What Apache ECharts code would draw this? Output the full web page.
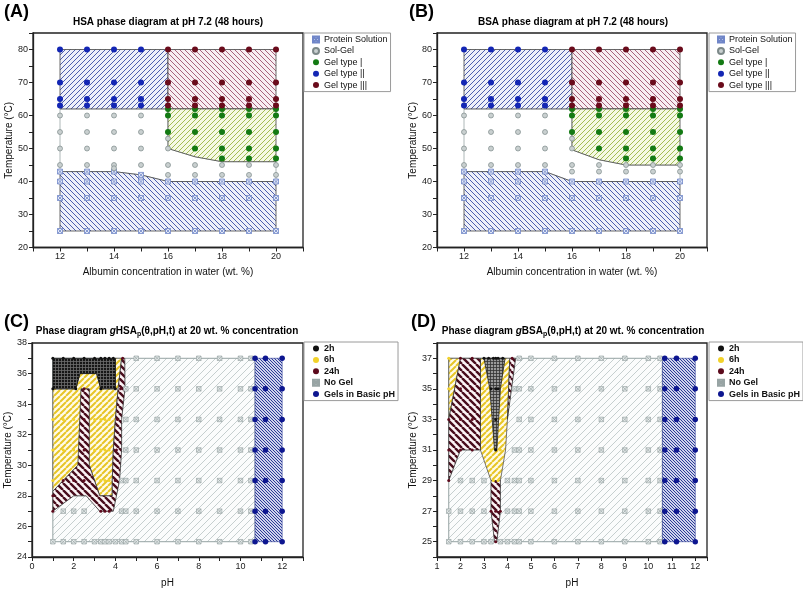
<!DOCTYPE html>
<html><head><meta charset="utf-8">
<script src="https://cdn.jsdelivr.net/npm/echarts@6/dist/echarts.min.js"></script>
<style>html,body{margin:0;padding:0;background:#fff}#c{width:803px;height:590px}</style>
</head><body><div id="c"></div>
<script>
const FONT = 'Liberation Sans, Arial, sans-serif';

// ---------- Panel A: HSA, pH 7.2 (rows: [temperature, [wt.% values]]) ----------
const A_protein = [[25,[12,13,14,15,16,17,18,19,20]],[35,[12,13,14,15,16,17,18,19,20]],[40,[12,13,14,15,16,17,18,19,20]],[43,[12,13,14]],[42,[15]]];
const A_solGel  = [[60,[12,13,14,15]],[55,[12,13,14,15]],[53,[16]],[50,[12,13,14,15,16]],[45,[12,13,14,15,16,17,18,19,20]],[44,[14]],[42,[16,17,18,19,20]]];
const A_gel1    = [[62,[16,17,18,19,20]],[60,[16,17,18,19,20]],[55,[16,17,18,19,20]],[50,[17,18,19,20]],[47,[18,19,20]]];
const A_gel2    = [[80,[12,13,14,15]],[70,[12,13,14,15]],[65,[12,13,14,15]],[63,[12,13,14,15]]];
const A_gel3    = [[80,[16,17,18,19,20]],[70,[16,17,18,19,20]],[65,[16,17,18,19,20]],[63,[16,17,18,19,20]]];
const A_regGel2 = [[12,62],[12,80],[16,80],[16,62]];
const A_regGel3 = [[16,62],[16,80],[20,80],[20,62]];
const A_regGel1 = [[16,62],[20,62],[20,46],[18,46],[17,47.5],[16,50]];
const A_regSol  = [[12,25],[12,43],[14,43],[15,42],[16,40],[20,40],[20,25]];
const A_regSolGel = [[12,43],[12,62],[16,62],[16,50],[17,47.5],[18,46],[20,46],[20,40],[16,40],[15,42],[14,43]];

// ---------- Panel B: BSA, pH 7.2 ----------
const B_protein = [[25,[12,13,14,15,16,17,18,19,20]],[35,[12,13,14,15,16,17,18,19,20]],[40,[12,13,14,15,16,17,18,19,20]],[43,[12,13,14,15]]];
const B_solGel  = [[60,[12,13,14,15]],[55,[12,13,14,15]],[53,[16]],[50,[12,13,14,15,16]],[45,[12,13,14,15,16,17,18,19,20]],[43,[16,17,18,19,20]]];
const B_gel1    = [[62,[16,17,18,19,20]],[60,[16,17,18,19,20]],[55,[16,17,18,19,20]],[50,[17,18,19,20]],[47,[18,19,20]]];
const B_gel2    = [[80,[12,13,14,15]],[70,[12,13,14,15]],[65,[12,13,14,15]],[63,[12,13,14,15]]];
const B_gel3    = [[80,[16,17,18,19,20]],[70,[16,17,18,19,20]],[65,[16,17,18,19,20]],[63,[16,17,18,19,20]]];
const B_regGel2 = [[12,62],[12,80],[16,80],[16,62]];
const B_regGel3 = [[16,62],[16,80],[20,80],[20,62]];
const B_regGel1 = [[16,62],[20,62],[20,45],[18,45],[17,46.6],[16,49.6]];
const B_regSol  = [[12,25],[12,43],[15,43],[16,40],[20,40],[20,25]];
const B_regSolGel = [[12,43],[12,62],[16,62],[16,49.6],[17,46.6],[18,45],[20,45],[20,40],[16,40],[15,43]];

// ---------- Panel C: gHSA at 20 wt.% (rows: [temperature, [pH values]]) ----------
const C_2h    = [[37,[1,1.5,2,2.5,3,3.3,3.5,3.7,3.9]],[35,[1,2.1,3.3,4]]];
const C_6h    = [[33,[1,1.5,2,3,3.3,3.5,3.7]],[31,[1,1.5,2,3,3.3,3.5,3.7]],[29,[1,3.3,3.5,3.7]]];
const C_24h   = [[37,[4.35]],[35,[2.5,4.25]],[33,[2.5,4.1]],[31,[2.5,4.05]],[29,[1.5,2,2.5,4]],[28,[1]],[27,[1,3.3,3.5,3.7]]];
const C_noGel = [[37,[5,6,7,8,9,10,10.5]],[35,[4.5,5,6,7,8,9,10,10.5]],[33,[4.5,5,6,7,8,9,10,10.5]],[31,[4.5,5,6,7,8,9,10,10.5]],[29,[4.3,4.5,5,6,7,8,9,10,10.5]],[27,[1.5,2,2.5,4.3,4.5,5,6,7,8,9,10,10.5]],[25,[1,1.5,2,2.5,3,3.3,3.5,3.7,4,4.3,4.5,5,6,7,8,9,10,10.5]]];
const C_basic = [[37,[10.7,11.2,12]],[35,[10.7,11.2,12]],[33,[10.7,11.2,12]],[31,[10.7,11.2,12]],[29,[10.7,11.2,12]],[27,[10.7,11.2,12]],[25,[10.7,11.2,12]]];
const C_regNoGel = [[1,25],[10.7,25],[10.7,37],[1,37]];
const C_regBasic = [[10.7,25],[12,25],[12,37],[10.7,37]];
const C_reg6h  = [[1,28.3],[1,35],[2.1,35],[2.3,36],[3.1,36],[3.3,35],[4.0,35],[4.0,37],[4.3,37],[4.13,35],[4.0,33],[3.9,31],[3.85,29],[3.85,28],[3.25,28],[2.75,30],[2.2,30]];
const C_reg24h = [[1,27],[1,28.3],[2.2,30],[2.35,35],[2.75,35],[2.75,30],[3.25,28],[3.85,28],[3.85,29],[3.9,31],[4.0,33],[4.13,35],[4.3,37],[4.45,37],[4.46,35],[4.3,33],[4.3,31],[4.2,29],[3.9,27],[3.25,27],[2.6,28],[2.0,28]];
const C_reg2h  = [[1,37],[4.0,37],[4.0,35],[3.3,35],[3.1,36],[2.3,36],[2.1,35],[1,35]];

// ---------- Panel D: gBSA at 20 wt.% ----------
const D_2h    = [[37,[3.0,3.2,3.4,3.5,3.6,3.8]],[35,[3.3,3.5,3.6]],[33,[3.5]],[31,[3.5]]];
const D_6h    = [[37,[1.5]],[35,[1.5,2.95,3.85]],[33,[3.1,3.8]],[31,[3.3,3.7]],[29,[3.4,3.6]]];
const D_24h   = [[37,[2.0,2.5,4.2]],[35,[2.0,2.5]],[33,[1.5,2.0,2.5]],[31,[1.5,2.0,2.5]],[29,[1.5]],[27,[3.3,3.5,3.7]],[25,[3.5]]];
const D_noGel = [[37,[4.5,5,6,7,8,9,10,10.5]],[35,[4.3,4.5,5,6,7,8,9,10,10.5]],[33,[4.5,5,6,7,8,9,10,10.5]],[31,[4.3,4.5,5,6,7,8,9,10,10.5]],[29,[2,2.5,3,4,4.3,4.5,5,6,7,8,9,10,10.5]],[27,[1.5,2,2.5,3,4,4.3,4.5,5,6,7,8,9,10,10.5]],[25,[1.5,2,2.5,3,3.3,3.7,4,4.3,4.5,5,6,7,8,9,10,10.5]]];
const D_basic = [[37,[10.7,11.2,12]],[35,[10.7,11.2,12]],[33,[10.7,11.2,12]],[31,[10.7,11.2,12]],[29,[10.7,11.2,12]],[27,[10.7,11.2,12]],[25,[10.7,11.2,12]]];
const D_regNoGel = [[1.5,25],[10.6,25],[10.6,37],[1.5,37]];
const D_regBasic = [[10.6,25],[12,25],[12,37],[10.6,37]];
const D_reg6hL   = [[1.5,33],[1.5,37],[2.0,37]];
const D_reg24hL  = [[1.5,29],[1.5,33],[2.0,37],[2.85,37],[2.85,31],[2.0,31]];
const D_reg6hM   = [[2.85,37],[4.1,37],[4.0,33],[3.92,31],[3.7,29],[3.3,29],[2.85,31]];
const D_reg2h    = [[3.0,37],[3.9,37],[3.7,35],[3.55,31],[3.45,31],[3.25,35]];
const D_reg24hR  = [[4.1,37],[4.35,37],[4.0,33]];
const D_reg24hB  = [[3.3,29],[3.7,29],[3.7,27],[3.55,25],[3.45,25],[3.3,27]];

// ---------- helpers ----------
function rows(tbl){ const out=[]; tbl.forEach(r=>r[1].forEach(x=>out.push([x,r[0]]))); return out; }
function hatch(line,bg,dir,size,width){
  const c=document.createElement('canvas'); c.width=size; c.height=size;
  const g=c.getContext('2d'); g.fillStyle=bg; g.fillRect(0,0,size,size);
  g.strokeStyle=line; g.lineWidth=width; g.beginPath();
  const s=size;
  const ds = dir==='x' ? ['/','\\'] : [dir];
  ds.forEach(d=>{
    if(d==='+'){ g.moveTo(0,s/2); g.lineTo(s,s/2); g.moveTo(s/2,0); g.lineTo(s/2,s); return; }
    for(let k=-1;k<=1;k++){
      if(d==='/'){ g.moveTo(k*s,s); g.lineTo(k*s+s,0); }
      else { g.moveTo(k*s,0); g.lineTo(k*s+s,s); }
    }
  });
  g.stroke();
  return {image:c, repeat:'repeat'};
}
function region(idx, pts, fill, stroke, lw, z){
  return {type:'custom', xAxisIndex:idx, yAxisIndex:idx, z:z, silent:true, data:pts,
    renderItem:function(params, api){
      if(params.dataIndex!==0) return;
      return {type:'polygon', shape:{points:pts.map(p=>api.coord(p))}, style:{fill:fill, stroke:stroke, lineWidth:lw}};
    }};
}
const BOXX = 'path://M0 0H10V10H0Z M0 0L10 10 M10 0L0 10';
function dots(idx, name, tbl, symbol, size, color, border, bw){
  return {type:'scatter', name:name, xAxisIndex:idx, yAxisIndex:idx, z:10, silent:true,
    data:rows(tbl), symbol:symbol, symbolSize:size,
    itemStyle:{color:color, opacity:1, borderColor:border||color, borderWidth:bw||0},
    emphasis:{disabled:true}};
}
function xAx(idx, min, max, interval, name, fmt, gap){
  return {type:'value', gridIndex:idx, min:min, max:max, interval:interval, name:name,
    nameLocation:'middle', nameGap:gap,
    nameTextStyle:{fontSize:10, color:'#111', fontFamily:FONT},
    axisLine:{show:true, onZero:false, lineStyle:{color:'#222', width:1.3}},
    axisTick:{show:true, length:4, lineStyle:{color:'#222', width:1}},
    axisLabel:{fontSize:9, color:'#222', fontFamily:FONT, margin:5, formatter:fmt},
    splitLine:{show:false}};
}
const even = v => (Math.round(v)===v && v%2===0) ? String(v) : '';
const odd  = v => (Math.round(v)===v && Math.abs(v%2)===1) ? String(v) : '';
const tens = v => (v%10===0) ? String(v) : '';
const ints = v => (Math.round(v)===v) ? String(v) : '';

// ---------- patterns ----------
const pBlueUp   = hatch('#4e5fae','#eef0f9','/',5,1);
const pBlueDn   = hatch('#4e5fae','#eef0f9','\\',5,1);
const pMaroonDn = hatch('#a8637d','#f8eef2','\\',5,1);
const pGreenUp  = hatch('#a3bd55','#f5f9e4','/',5,1);
const pGray     = hatch('#c6cfcf','#fbfcfc','/',7,1);
const pBasic    = hatch('#2b3a96','#cfd3ec','\\',3,1);
const pYellow   = hatch('#e7c527','#fffbe8','/',6,2);
const pMaroonC  = hatch('#4a0d1d','#fbf3f5','\\',7,2.4);
const pBlackC   = hatch('#6d6d6d','#161616','+',3,0.8);
const pBlackD   = hatch('#333333','#9a9a9a','+',3,0.8);

const series = [
  // A
  region(0, A_regSolGel, '#ffffff', '#9aa6a6', 0.8, 1),
  region(0, A_regGel2, pBlueUp, '#444', 0.8, 2),
  region(0, A_regGel3, pMaroonDn, '#444', 0.8, 2),
  region(0, A_regGel1, pGreenUp, '#444', 0.8, 2),
  region(0, A_regSol, pBlueDn, '#444', 0.8, 2),
  dots(0,'Protein Solution',A_protein,BOXX,5,'#e2e8f7','#7086c8',0.8),
  dots(0,'Sol-Gel',A_solGel,'circle',5,'#c9d0d0','#7d8989',0.7),
  dots(0,'Gel type |',A_gel1,'circle',6,'#137a13'),
  dots(0,'Gel type ||',A_gel2,'circle',6,'#1326b4'),
  dots(0,'Gel type |||',A_gel3,'circle',6,'#6a0b1b'),
  // B
  region(1, B_regSolGel, '#ffffff', '#9aa6a6', 0.8, 1),
  region(1, B_regGel2, pBlueUp, '#444', 0.8, 2),
  region(1, B_regGel3, pMaroonDn, '#444', 0.8, 2),
  region(1, B_regGel1, pGreenUp, '#444', 0.8, 2),
  region(1, B_regSol, pBlueDn, '#444', 0.8, 2),
  dots(1,'Protein Solution',B_protein,BOXX,5,'#e2e8f7','#7086c8',0.8),
  dots(1,'Sol-Gel',B_solGel,'circle',5,'#c9d0d0','#7d8989',0.7),
  dots(1,'Gel type |',B_gel1,'circle',6,'#137a13'),
  dots(1,'Gel type ||',B_gel2,'circle',6,'#1326b4'),
  dots(1,'Gel type |||',B_gel3,'circle',6,'#6a0b1b'),
  // C
  region(2, C_regNoGel, pGray, '#95a3a3', 1, 1),
  region(2, C_regBasic, pBasic, '#2b3a96', 0.6, 1),
  region(2, C_reg6h, pYellow, '#555', 0.8, 2),
  region(2, C_reg24h, pMaroonC, '#333', 0.8, 3),
  region(2, C_reg2h, pBlackC, '#111', 0.8, 4),
  dots(2,'2h',C_2h,'circle',3,'#111111'),
  dots(2,'6h',C_6h,'circle',3,'#f2d22a'),
  dots(2,'24h',C_24h,'circle',3,'#5c0a1c'),
  dots(2,'No Gel',C_noGel,BOXX,4.5,'#e9eeee','#98a4a4',0.7),
  dots(2,'Gels in Basic pH',C_basic,'circle',5.5,'#0d1690'),
  // D
  region(3, D_regNoGel, pGray, '#95a3a3', 1, 1),
  region(3, D_regBasic, pBasic, '#2b3a96', 0.6, 1),
  region(3, D_reg6hL, pYellow, '#555', 0.8, 2),
  region(3, D_reg24hL, pMaroonC, '#333', 0.8, 3),
  region(3, D_reg6hM, pYellow, '#555', 0.8, 2),
  region(3, D_reg24hR, pMaroonC, '#333', 0.8, 3),
  region(3, D_reg24hB, pMaroonC, '#333', 0.8, 3),
  region(3, D_reg2h, pBlackD, '#222', 0.8, 4),
  dots(3,'2h',D_2h,'circle',3,'#111111'),
  dots(3,'6h',D_6h,'circle',3,'#f2d22a'),
  dots(3,'24h',D_24h,'circle',3,'#5c0a1c'),
  dots(3,'No Gel',D_noGel,BOXX,4.5,'#e9eeee','#98a4a4',0.7),
  dots(3,'Gels in Basic pH',D_basic,'circle',5.5,'#0d1690')
];

const legendAB = ['Protein Solution','Sol-Gel','Gel type |','Gel type ||','Gel type |||'];
const legendCD = ['2h','6h','24h','No Gel','Gels in Basic pH'];
function leg(left, top, data, bold){
  return {orient:'vertical', left:left, top:top, data:data, selectedMode:false,
    itemWidth:6, itemHeight:6, itemGap:0.4, padding:[1,3,1,8],
    borderColor:'#9a9a9a', borderWidth:1, backgroundColor:'#fff',
    textStyle:{fontSize:9, lineHeight:11, color:'#111', fontFamily:FONT, fontWeight: bold?'bold':'normal'}};
}
function ttl(text, left, top, size, align){
  return {text:text, left:left, top:top, padding:0, textAlign:align||'left',
    textStyle:{fontSize:size, fontWeight:'bold', color:'#000', fontFamily:FONT}};
}
function richTitle(prefix, left){
  return {text:'{t|Phase diagram }{i|g}{t|'+prefix+'}{s|p}{t|(θ,pH,t) at 20 wt. % concentration}',
    left:left, top:325, padding:0, textAlign:'center',
    textStyle:{rich:{
      t:{fontSize:10, fontWeight:'bold', fontFamily:FONT, color:'#000', lineHeight:12},
      i:{fontSize:10, fontWeight:'bold', fontStyle:'italic', fontFamily:FONT, color:'#000', lineHeight:12},
      s:{fontSize:7, fontWeight:'bold', fontFamily:FONT, color:'#000', lineHeight:12, padding:[6,0,0,0]}
    }}};
}

const option = {
  backgroundColor:'#ffffff',
  animation:false,
  title:[
    ttl('(A)',4,3,18), ttl('(B)',409,3,18), ttl('(C)',4,313,18), ttl('(D)',411,313,18),
    ttl('HSA phase diagram at pH 7.2 (48 hours)',168,17,10,'center'),
    ttl('BSA phase diagram at pH 7.2 (48 hours)',573,17,10,'center'),
    richTitle('HSA',167), richTitle('BSA',573)
  ],
  legend:[leg(304,33,legendAB,false), leg(709,33,legendAB,false), leg(304,342,legendCD,true), leg(709,342,legendCD,true)],
  grid:[
    {left:33, top:33, width:270, height:214.5, show:true, borderColor:'#222', borderWidth:1.3, backgroundColor:'transparent'},
    {left:437, top:33, width:270, height:214.5, show:true, borderColor:'#222', borderWidth:1.3, backgroundColor:'transparent'},
    {left:32, top:343, width:271, height:214, show:true, borderColor:'#222', borderWidth:1.3, backgroundColor:'transparent'},
    {left:437, top:343, width:270, height:214, show:true, borderColor:'#222', borderWidth:1.3, backgroundColor:'transparent'}
  ],
  xAxis:[
    xAx(0,11,21,1,'Albumin concentration in water (wt. %)',even,20),
    xAx(1,11,21,1,'Albumin concentration in water (wt. %)',even,20),
    xAx(2,0,13,1,'pH',even,21),
    xAx(3,1,12.5,1,'pH',ints,21)
  ],
  yAxis:[
    xAx(0,20,85,5,'Temperature (°C)',tens,18),
    xAx(1,20,85,5,'Temperature (°C)',tens,18),
    xAx(2,24,38,1,'Temperature (°C)',even,17),
    xAx(3,24,38,1,'Temperature (°C)',odd,17)
  ],
  series:series
};
const chart = echarts.init(document.getElementById('c'), null, {renderer:'canvas'});
chart.setOption(option);
</script></body></html>
